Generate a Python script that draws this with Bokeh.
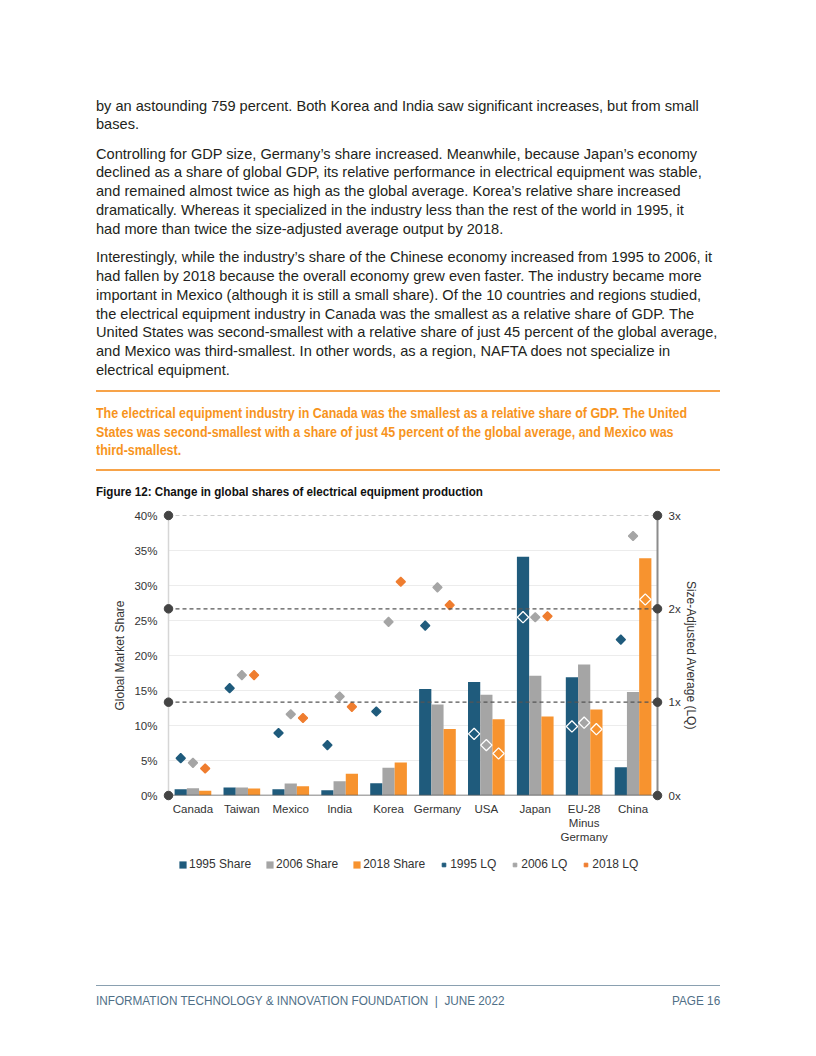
import math
from bokeh.plotting import figure
from bokeh.models import (Range1d, FactorRange, LinearAxis, Span, ColumnDataSource,
                          Legend, LegendItem, Div, FixedTicker, PrintfTickFormatter)
from bokeh.layouts import column
from bokeh.transform import dodge
from bokeh.embed import file_html
from bokeh.resources import INLINE

# ---------------- data ----------------
countries = ["Canada", "Taiwan", "Mexico", "India", "Korea", "Germany", "USA",
             "Japan", "EU-28\nMinus\nGermany", "China"]
share_1995 = [0.9, 1.14, 0.9, 0.76, 1.76, 15.2, 16.2, 34.1, 16.9, 4.05]
share_2006 = [1.05, 1.14, 1.71, 2.05, 3.95, 13.0, 14.4, 17.1, 18.7, 14.8]
share_2018 = [0.67, 1.0, 1.33, 3.1, 4.71, 9.5, 10.9, 11.3, 12.3, 33.9]
lq_1995 = [0.40, 1.15, 0.67, 0.54, 0.90, 1.82, 0.66, 1.91, 0.74, 1.67]
lq_2006 = [0.35, 1.29, 0.87, 1.06, 1.86, 2.23, 0.54, 1.91, 0.78, 2.78]
lq_2018 = [0.29, 1.29, 0.83, 0.95, 2.29, 2.04, 0.45, 1.92, 0.71, 2.10]
share_ticks = [0, 5, 10, 15, 20, 25, 30, 35, 40]
lq_ticks = [0, 1, 2, 3]
series_names = ["1995", "2006", "2018"]

para1 = ["by an astounding 759 percent. Both Korea and India saw significant increases, but from small",
         "bases."]
para2 = ["Controlling for GDP size, Germany\u2019s share increased. Meanwhile, because Japan\u2019s economy",
         "declined as a share of global GDP, its relative performance in electrical equipment was stable,",
         "and remained almost twice as high as the global average. Korea\u2019s relative share increased",
         "dramatically. Whereas it specialized in the industry less than the rest of the world in 1995, it",
         "had more than twice the size-adjusted average output by 2018."]
para3 = ["Interestingly, while the industry\u2019s share of the Chinese economy increased from 1995 to 2006, it",
         "had fallen by 2018 because the overall economy grew even faster. The industry became more",
         "important in Mexico (although it is still a small share). Of the 10 countries and regions studied,",
         "the electrical equipment industry in Canada was the smallest as a relative share of GDP. The",
         "United States was second-smallest with a relative share of just 45 percent of the global average,",
         "and Mexico was third-smallest. In other words, as a region, NAFTA does not specialize in",
         "electrical equipment."]
callout = ["The electrical equipment industry in Canada was the smallest as a relative share of GDP. The United",
           "States was second-smallest with a share of just 45 percent of the global average, and Mexico was",
           "third-smallest."]
fig_title = "Figure 12: Change in global shares of electrical equipment production"
footer_left = "INFORMATION TECHNOLOGY &amp; INNOVATION FOUNDATION &nbsp;|&nbsp; JUNE 2022"
footer_right = "PAGE 16"

# ---------------- styles ----------------
BLUE = "#1f5b7c"
GREY = "#a5a5a5"
ORANGE = "#f7932f"
ORANGE_MK = "#ef7d2f"
ORANGE_TXT = "#f7941d"
FONT = "'Liberation Sans', Arial, sans-serif"
LQ_MAX = 3.0
SHARE_MAX = 40.0

def block(lines, top, size, lh, color="#231f20", weight="normal", sx=1.0, right=False):
    side = "right:96px;" if right else "left:96px;"
    origin = "right" if right else "left"
    return (f'<div style="position:absolute;{side}top:{top}px;font-size:{size}px;'
            f'line-height:{lh}px;white-space:nowrap;color:{color};font-weight:{weight};'
            f'transform:scaleX({sx});transform-origin:{origin} top;">'
            + "<br>".join(lines) + "</div>")

top_html = ('<div style="position:relative;width:816px;height:500px;overflow:hidden;'
            f'font-family:{FONT};">'
            + block(para1, 96.6, 14.6, 18.8)
            + block(para2, 144.6, 14.6, 18.8)
            + block(para3, 248.3, 14.6, 18.8)
            + '<div style="position:absolute;left:96px;top:390px;width:624px;height:0;border-top:2px solid #f7a349;"></div>'
            + block(callout, 403.9, 14, 18.8, ORANGE_TXT, "bold", 0.89)
            + '<div style="position:absolute;left:96px;top:469px;width:624px;height:0;border-top:2px solid #f7a349;"></div>'
            + block([fig_title], 484, 12.5, 16, "#111111", "bold", 0.93)
            + '</div>')

bottom_html = ('<div style="position:relative;width:816px;height:170px;overflow:hidden;'
               f'font-family:{FONT};">'
               '<div style="position:absolute;left:96px;top:105px;width:624px;height:0;border-top:1px solid #8aa0b0;"></div>'
               + block([footer_left], 113, 12.5, 16, "#4f6f87", "normal", 0.94)
               + block([footer_right], 113, 12.5, 16, "#4f6f87", "normal", 0.94, right=True)
               + '</div>')

top_div = Div(text=top_html, width=816, height=500, margin=0)
bottom_div = Div(text=bottom_html, width=816, height=170, margin=0)

# ---------------- chart ----------------
p = figure(x_range=FactorRange(factors=countries, range_padding=0),
           y_range=Range1d(0, SHARE_MAX), width=816, height=350,
           output_backend="svg", toolbar_location=None,
           min_border_left=168, min_border_right=159, min_border_top=15,
           min_border_bottom=55, outline_line_color=None, margin=0,
           background_fill_color="white", border_fill_color="white")
p.extra_y_ranges = {"lq": Range1d(0, LQ_MAX)}

p.xgrid.visible = False
p.ygrid.ticker = FixedTicker(ticks=share_ticks[1:-1])
p.ygrid.grid_line_color = "#ececec"
p.ygrid.grid_line_width = 1

# left axis
ya = p.yaxis[0]
ya.ticker = FixedTicker(ticks=share_ticks)
ya.formatter = PrintfTickFormatter(format="%d%%")
ya.axis_line_color = "#d6d6d6"
ya.axis_line_width = 1.5
ya.major_tick_line_color = None
ya.minor_tick_line_color = None
ya.major_label_standoff = 5
ya.major_label_text_font = "Liberation Sans"
ya.major_label_text_font_size = "11.5px"
ya.major_label_text_color = "#333333"
ya.axis_label = "Global Market Share"
ya.axis_label_text_font = "Liberation Sans"
ya.axis_label_text_font_size = "12px"
ya.axis_label_text_font_style = "normal"
ya.axis_label_text_color = "#333333"
ya.axis_label_standoff = 4

# right axis
ra = LinearAxis(y_range_name="lq", ticker=FixedTicker(ticks=lq_ticks),
                formatter=PrintfTickFormatter(format="%dx"))
ra.axis_line_color = "#8c8c8c"
ra.axis_line_width = 2
ra.major_tick_line_color = None
ra.minor_tick_line_color = None
ra.major_label_standoff = 5
ra.major_label_text_font = "Liberation Sans"
ra.major_label_text_font_size = "11.5px"
ra.major_label_text_color = "#333333"
ra.axis_label = "Size-Adjusted Average (LQ)"
ra.axis_label_text_font = "Liberation Sans"
ra.axis_label_text_font_size = "12px"
ra.axis_label_text_font_style = "normal"
ra.axis_label_text_color = "#333333"
ra.axis_label_standoff = 0
p.add_layout(ra, "right")

# x axis
xa = p.xaxis[0]
xa.axis_line_color = None
xa.major_tick_line_color = None
xa.minor_tick_line_color = None
xa.major_label_standoff = 1
xa.major_label_text_font = "Liberation Sans"
xa.major_label_text_font_size = "11.5px"
xa.major_label_text_color = "#333333"

# reference lines
for v in lq_ticks[1:]:
    p.add_layout(Span(location=v, dimension="width", y_range_name="lq",
                      line_color="#9a9a9a" if v == LQ_MAX else "#555555",
                      line_dash="4 3", line_width=1.2))

# bars
share_src = ColumnDataSource(dict(country=countries, s1995=share_1995,
                                  s2006=share_2006, s2018=share_2018))
bar_cols = [BLUE, GREY, ORANGE]
offsets = [-0.25, 0.0, 0.25]
for name, col, off in zip(series_names, bar_cols, offsets):
    p.vbar(x=dodge("country", off, range=p.x_range), top="s" + name, width=0.25,
           source=share_src, fill_color=col, line_color=None)

p.add_layout(Span(location=0, dimension="width", line_color="#595959", line_width=1.5))

# LQ markers (hollow white when drawn over their own bar)
mk_cols = [BLUE, GREY, ORANGE_MK]
for vals, shares, col, off in zip([lq_1995, lq_2006, lq_2018],
                                  [share_1995, share_2006, share_2018], mk_cols, offsets):
    inside = [v * SHARE_MAX / LQ_MAX < s for v, s in zip(vals, shares)]
    src = ColumnDataSource(dict(country=countries, lq=vals,
                                fa=[0.0 if i else 1.0 for i in inside],
                                lc=["white" if i else col for i in inside],
                                sz=[8.0 if i else 6.5 for i in inside]))
    p.scatter(x=dodge("country", off, range=p.x_range), y="lq", y_range_name="lq",
              source=src, marker="square", angle=math.pi / 4, size="sz",
              fill_color=col, fill_alpha="fa", line_color="lc", line_width=1.3)

# end dots on the axes
dots = ColumnDataSource(dict(x=[0] * 4 + [len(countries)] * 4, y=lq_ticks * 2))
p.scatter(x="x", y="y", y_range_name="lq", source=dots, marker="circle", size=8.5,
          fill_color="#444444", line_color="#444444", level="overlay")

# ---------------- legend strip (its frame aligns with the chart frame) ----------------
lg = figure(width=816, height=30, x_range=Range1d(0, 1), y_range=Range1d(0, 1),
            output_backend="svg", toolbar_location=None, x_axis_type=None,
            y_axis_type=None, min_border_left=168, min_border_right=159,
            min_border_top=0, min_border_bottom=0, outline_line_color=None, margin=0,
            background_fill_color="white", border_fill_color="white")
lg.xgrid.visible = False
lg.ygrid.visible = False
leg_items = []
for name, col in zip(series_names, bar_cols):
    # a single key entry kept outside the visible range: only its legend swatch shows
    r = lg.vbar(x=[-5], top=[-5], bottom=[-6], width=0.1, fill_color=col, line_color=None)
    leg_items.append(LegendItem(label=name + " Share", renderers=[r]))
for name, col in zip(series_names, mk_cols):
    d = lg.scatter(x=[-5], y=[-5], marker="square", angle=math.pi / 4, size=4,
                   fill_color=col, line_color=col)
    leg_items.append(LegendItem(label=name + " LQ", renderers=[d]))
legend = Legend(items=leg_items, orientation="horizontal", location=(10, 8),
                border_line_color=None, background_fill_alpha=0,
                label_text_font="Liberation Sans", label_text_font_size="12px",
                label_text_color="#333333", glyph_width=9, glyph_height=9,
                label_standoff=2, spacing=14, padding=0, margin=0, label_height=16)
lg.add_layout(legend, "center")

layout = column(top_div, p, lg, bottom_div, spacing=0, margin=0)
open("out.html", "w").write(file_html(layout, INLINE))
